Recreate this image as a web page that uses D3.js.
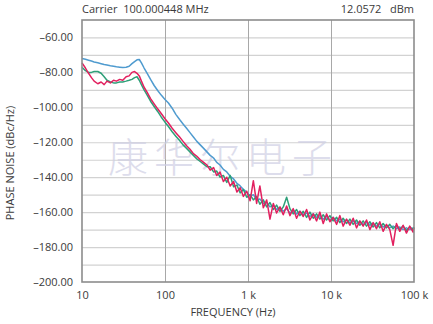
<!DOCTYPE html>
<html>
<head>
<meta charset="utf-8">
<script src="https://cdn.jsdelivr.net/npm/d3@7/dist/d3.min.js"></script>
<style>
  body { margin: 0; background: #fff; }
  svg text { font-family: "Open Sans", "Noto Sans", sans-serif; fill: #3a3a3a; }
  .tick text { font-size: 11px; }
</style>
</head>
<body>
<svg id="chart"></svg>
<script>
// header texts
var carrierText = "Carrier  100.000448 MHz";
var powerText = "12.0572   dBm";
var watermark = "康华尔电子";

// offset frequencies (Hz)
var freqs = [
  10, 11, 12, 13, 14, 15.5, 17, 18.5, 20, 22,
  24, 26, 28.5, 31, 34, 37, 40, 43, 46, 49,
  52, 56, 61, 67, 74, 82, 90, 100, 110, 122,
  135, 150, 165, 182, 200, 220, 242, 266, 292,
  320, 350, 385, 420, 460, 505, 555, 610, 670, 735,
  805, 880, 965, 1060, 1160, 1270, 1390, 1530, 1680, 1840,
  2020, 2210, 2430, 2660, 2920, 3200, 3510, 3850, 4220, 4630,
  5080, 5570, 6110, 6700, 7350, 8060, 8840, 9700, 10600, 11700,
  12800, 14000, 15400, 16900, 18500, 20300, 22300, 24400, 26800, 29400,
  32200, 35300, 38700, 42500, 46600, 51100, 56000, 61500, 67400, 73900,
  81100, 88900, 97500, 100000
];

// phase noise, dBc/Hz
var blueDb = [
  -72, -72.5, -73, -73.5, -74, -74.5, -75, -75.5, -75.8, -76.2,
  -76.5, -76.8, -77, -77.2, -77, -76.5, -75, -73.8, -72.8, -72.6,
  -74.5, -77.5, -80.5, -84, -87.5, -90.5, -93, -95.5, -97.5, -100.5,
  -104, -107, -109.5, -112, -114.5, -117, -119.5, -121.5, -123.5,
  -125.5, -127.5, -129, -131.5, -133, -135.5, -137, -139.5, -141, -143.5,
  -145, -147, -148.5, -151, -150, -153, -152.5, -155, -154.5, -157,
  -156, -158.5, -157.5, -159.5, -158, -160.5, -159, -161, -159.5, -161.5,
  -160.5, -162.5, -161, -163, -162, -164, -162.5, -164.5, -163, -165,
  -164, -165.5, -164.5, -166, -165, -166.5, -165.5, -167, -166, -167.5,
  -166.5, -168, -167, -168.5, -167.5, -169, -168, -169.5, -168.5, -170,
  -169, -170, -169, -169.5
];

var greenDb = [
  -77, -79, -80, -80, -79.5, -79.5, -80.5, -82.5, -84.5, -85.5,
  -86, -86, -85.5, -85.5, -85, -84.5, -84, -83, -82.5, -84.5,
  -87, -90, -93, -96.5, -99.5, -102.5, -105.5, -108.5, -111, -114,
  -116.5, -119, -121.5, -123.5, -125.5, -127.5, -129.5, -131, -132.5,
  -134, -134, -137, -136.5, -140, -139, -143, -139, -145.5, -144.5,
  -149, -147, -151.5, -150, -153, -151, -155.5, -153, -157, -154.5,
  -158.5, -156, -159.5, -157, -151.5, -158, -161, -158.5, -162, -159.5,
  -163, -160, -163.5, -161, -164, -161.5, -164.5, -162, -165, -163,
  -166, -163.5, -166.5, -164, -167, -164.5, -167.5, -165, -168, -165.5,
  -168.5, -166, -169, -166.5, -169, -167, -169.5, -167.5, -170, -168,
  -170.5, -168.5, -170, -168.5
];

var redDb = [
  -74.5, -77.5, -80.5, -83, -85, -86.5, -85.5, -87, -85, -86,
  -84.5, -85, -84, -84.5, -82.5, -82, -80, -79.5, -80.5, -82,
  -85, -88.5, -91.5, -95, -98, -101, -103.5, -106.5, -109, -112,
  -114.5, -117, -119.5, -122, -124, -126.5, -128, -130, -131.5,
  -133, -136, -134.5, -139, -137, -142.5, -140, -145, -142.5, -148.5,
  -146, -151, -148, -153.5, -142, -155, -145, -157.5, -153, -164,
  -155, -160.5, -157, -161.5, -156.5, -162, -158, -163.5, -159.5, -162.5,
  -158.5, -164.5, -161, -165, -160, -166.5, -161, -165.5, -163, -167,
  -162, -168, -164, -167.5, -163.5, -169, -165, -168, -164.5, -170,
  -166, -169.5, -165.5, -171, -167, -170, -179, -166.5, -171, -167.5,
  -172, -168, -171.5, -169
];

var series = [
  { name: "blue", values: blueDb, color: "#4f9bcf" },
  { name: "green", values: greenDb, color: "#2e9f78" },
  { name: "red", values: redDb, color: "#e2205f" }
];

var yTicks = [-60, -80, -100, -120, -140, -160, -180, -200];
var xTicks = [10, 100, 1000, 10000, 100000];
var xTickLabels = ["10", "100", "1 k", "10 k", "100 k"];

var width = 433, height = 324;
var margin = { top: 20, right: 19, bottom: 42, left: 82 };
var chartWidth = width - margin.left - margin.right;
var chartHeight = height - margin.top - margin.bottom;

var svg = d3.select('#chart').attr('width', width).attr('height', height);

var x = d3.scaleLog().domain([10, 100000]).range([0, chartWidth]);
var y = d3.scaleLinear().domain([-200, -50]).range([chartHeight, 0]);

var g = svg.append('g').attr('transform', 'translate(' + margin.left + ',' + margin.top + ')');

// horizontal grid every 10 dB
g.append('g')
    .call(d3.axisLeft(y).tickValues(d3.range(-190, -50, 10)).tickSize(-chartWidth).tickFormat(""))
    .call(function(s) { s.select('.domain').remove(); })
    .selectAll('line').attr('stroke', '#d2d2d2').attr('stroke-width', 1.2);

// vertical decade grid
g.append('g')
    .attr('transform', 'translate(0,' + chartHeight + ')')
    .call(d3.axisBottom(x).tickValues([100, 1000, 10000]).tickSize(-chartHeight).tickFormat(""))
    .call(function(s) { s.select('.domain').remove(); })
    .selectAll('line').attr('stroke', '#a8a8a8').attr('stroke-width', 1);

// watermark
g.append('text')
    .attr('x', 26).attr('y', 152)
    .attr('font-size', 40)
    .attr('letter-spacing', 6)
    .style('font-family', '"Noto Sans CJK SC", sans-serif')
    .style('font-weight', 300)
    .style('fill', '#cfcfe4')
    .style('opacity', 0.7)
    .text(watermark);

// curves
var line = d3.line()
    .x(function(d, i) { return x(freqs[i]); })
    .y(function(d) { return y(d); });

series.forEach(function(s) {
    g.append('path')
        .datum(s.values)
        .attr('fill', 'none')
        .attr('stroke', s.color)
        .attr('stroke-width', 1.5)
        .attr('stroke-linejoin', 'round')
        .attr('d', line);
});

// frame
g.append('rect')
    .attr('width', chartWidth).attr('height', chartHeight)
    .attr('fill', 'none').attr('stroke', '#8c8c8c').attr('stroke-width', 1.6);

// axes labels
var yAxis = g.append('g')
    .call(d3.axisLeft(y).tickValues(yTicks).tickSize(0).tickPadding(9)
        .tickFormat(function(d) { return '\u2013' + Math.abs(d).toFixed(2); }));
yAxis.select('.domain').remove();

var xAxis = g.append('g')
    .attr('transform', 'translate(0,' + chartHeight + ')')
    .call(d3.axisBottom(x).tickValues(xTicks).tickSize(0).tickPadding(9)
        .tickFormat(function(d, i) { return xTickLabels[i]; }));
xAxis.select('.domain').remove();

// titles
svg.append('text')
    .attr('x', margin.left).attr('y', 13)
    .attr('font-size', 11)
    .style('white-space', 'pre')
    .text(carrierText);

svg.append('text')
    .attr('x', margin.left + chartWidth).attr('y', 13)
    .attr('font-size', 11)
    .style('white-space', 'pre')
    .style('text-anchor', 'end')
    .text(powerText);

svg.append('text')
    .attr('transform', 'translate(' + (margin.left + chartWidth / 2 - 15) + ',' + 316 + ')')
    .attr('font-size', 11)
    .style('text-anchor', 'middle')
    .text('FREQUENCY (Hz)');

svg.append('text')
    .attr('transform', 'translate(14,' + (margin.top + chartHeight / 2 + 12) + ') rotate(-90)')
    .attr('font-size', 11)
    .style('text-anchor', 'middle')
    .text('PHASE NOISE (dBc/Hz)');
</script>
</body>
</html>
